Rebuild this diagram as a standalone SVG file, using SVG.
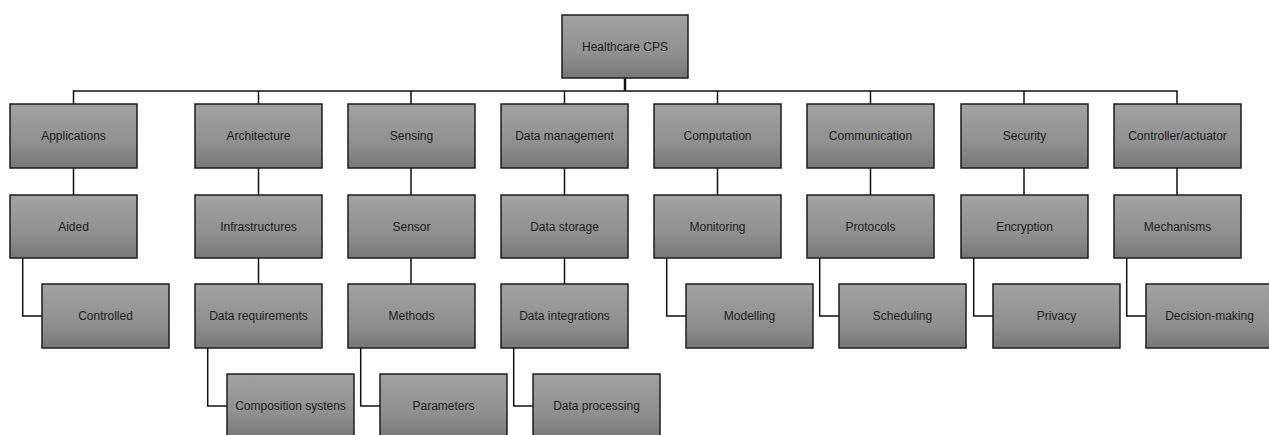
<svg xmlns="http://www.w3.org/2000/svg" width="1269" height="435" viewBox="0 0 1269 435">
<defs>
<linearGradient id="g" x1="0" y1="0" x2="0" y2="1">
<stop offset="0" stop-color="#a2a2a2"/>
<stop offset="0.6" stop-color="#909090"/>
<stop offset="1" stop-color="#777777"/>
</linearGradient>
</defs>
<style>
.box{fill:url(#g);stroke:#1e1e1e;stroke-width:1.5}
.t{font-family:"Liberation Sans",Arial,sans-serif;font-size:12px;fill:#1e1e1e;text-anchor:middle;dominant-baseline:central}
.c{fill:none;stroke:#111;stroke-width:1.5}
</style>
<rect width="1269" height="435" fill="#fff"/>
<g id="connectors">
<path class="c" d="M625 78V91" style="stroke-width:2.5"/>
<path class="c" d="M73.5 104V91H1177V104"/>
<path class="c" d="M258.5 91V104M411 91V104M564.5 91V104M717.5 91V104M870.5 91V104M1024 91V104"/>
<path class="c" d="M73.5 168V195M258.5 168V195M411 168V195M564.5 168V195M717.5 168V195M870.5 168V195M1024 168V195M1177 168V195"/>
<path class="c" d="M258.5 258V284M411 258V284M564.5 258V284"/>
<path class="c" d="M22.7 258V316H42M666.7 258V316H686M819.7 258V316H839M973.7 258V316H993M1126.7 258V316H1146"/>
<path class="c" d="M207.7 348V406H227M360.7 348V406H380M513.7 348V406H533"/>
</g>
<g id="root"><rect class="box" x="562" y="15" width="126" height="63"/><text class="t" x="625" y="46.5">Healthcare CPS</text></g>
<g id="applications"><rect class="box" x="10" y="104" width="127" height="64"/><text class="t" x="73.5" y="136">Applications</text></g>
<g id="aided"><rect class="box" x="10" y="195" width="127" height="63"/><text class="t" x="73.5" y="226.5">Aided</text></g>
<g id="controlled"><rect class="box" x="42" y="284" width="127" height="64"/><text class="t" x="105.5" y="316">Controlled</text></g>
<g id="architecture"><rect class="box" x="195" y="104" width="127" height="64"/><text class="t" x="258.5" y="136">Architecture</text></g>
<g id="infrastructures"><rect class="box" x="195" y="195" width="127" height="63"/><text class="t" x="258.5" y="226.5">Infrastructures</text></g>
<g id="data-requirements"><rect class="box" x="195" y="284" width="127" height="64"/><text class="t" x="258.5" y="316">Data requirements</text></g>
<g id="composition-systems"><rect class="box" x="227" y="374" width="127" height="64"/><text class="t" x="290.5" y="406">Composition systens</text></g>
<g id="sensing"><rect class="box" x="348" y="104" width="127" height="64"/><text class="t" x="411.5" y="136">Sensing</text></g>
<g id="sensor"><rect class="box" x="348" y="195" width="127" height="63"/><text class="t" x="411.5" y="226.5">Sensor</text></g>
<g id="methods"><rect class="box" x="348" y="284" width="127" height="64"/><text class="t" x="411.5" y="316">Methods</text></g>
<g id="parameters"><rect class="box" x="380" y="374" width="127" height="64"/><text class="t" x="443.5" y="406">Parameters</text></g>
<g id="data-management"><rect class="box" x="501" y="104" width="127" height="64"/><text class="t" x="564.5" y="136">Data management</text></g>
<g id="data-storage"><rect class="box" x="501" y="195" width="127" height="63"/><text class="t" x="564.5" y="226.5">Data storage</text></g>
<g id="data-integrations"><rect class="box" x="501" y="284" width="127" height="64"/><text class="t" x="564.5" y="316">Data integrations</text></g>
<g id="data-processing"><rect class="box" x="533" y="374" width="127" height="64"/><text class="t" x="596.5" y="406">Data processing</text></g>
<g id="computation"><rect class="box" x="654" y="104" width="127" height="64"/><text class="t" x="717.5" y="136">Computation</text></g>
<g id="monitoring"><rect class="box" x="654" y="195" width="127" height="63"/><text class="t" x="717.5" y="226.5">Monitoring</text></g>
<g id="modelling"><rect class="box" x="686" y="284" width="127" height="64"/><text class="t" x="749.5" y="316">Modelling</text></g>
<g id="communication"><rect class="box" x="807" y="104" width="127" height="64"/><text class="t" x="870.5" y="136">Communication</text></g>
<g id="protocols"><rect class="box" x="807" y="195" width="127" height="63"/><text class="t" x="870.5" y="226.5">Protocols</text></g>
<g id="scheduling"><rect class="box" x="839" y="284" width="127" height="64"/><text class="t" x="902.5" y="316">Scheduling</text></g>
<g id="security"><rect class="box" x="961" y="104" width="127" height="64"/><text class="t" x="1024.5" y="136">Security</text></g>
<g id="encryption"><rect class="box" x="961" y="195" width="127" height="63"/><text class="t" x="1024.5" y="226.5">Encryption</text></g>
<g id="privacy"><rect class="box" x="993" y="284" width="127" height="64"/><text class="t" x="1056.5" y="316">Privacy</text></g>
<g id="controller-actuator"><rect class="box" x="1114" y="104" width="127" height="64"/><text class="t" x="1177.5" y="136">Controller/actuator</text></g>
<g id="mechanisms"><rect class="box" x="1114" y="195" width="127" height="63"/><text class="t" x="1177.5" y="226.5">Mechanisms</text></g>
<g id="decision-making"><rect class="box" x="1146" y="284" width="127" height="64"/><text class="t" x="1209.5" y="316">Decision-making</text></g>
</svg>
